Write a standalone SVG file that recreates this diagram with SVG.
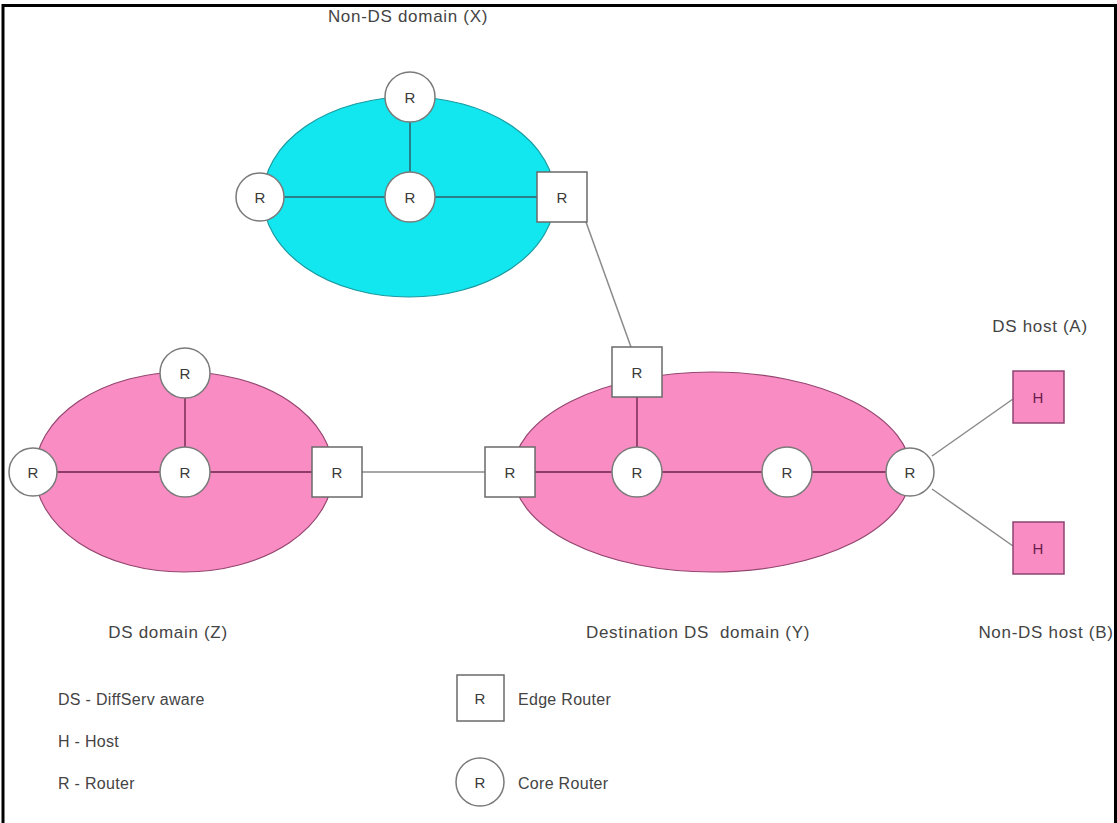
<svg xmlns="http://www.w3.org/2000/svg" width="1117" height="823" viewBox="0 0 1117 823">
<style>
.lbl{font-family:"Liberation Sans",Arial,sans-serif;font-size:17px;letter-spacing:0.7px;fill:#444}
.leg{font-family:"Liberation Sans",Arial,sans-serif;font-size:16px;letter-spacing:0.3px;fill:#444}
.r{font-family:"Liberation Sans",Arial,sans-serif;font-size:15px;fill:#3a3a3a;text-anchor:middle;dominant-baseline:central}
.h{font-family:"Liberation Sans",Arial,sans-serif;font-size:15px;fill:#6a1d4c;text-anchor:middle;dominant-baseline:central}
.core{fill:#fff;stroke:#7a7a7a;stroke-width:1.5}
.edge{fill:#fff;stroke:#6a6a6a;stroke-width:1.5}
.host{fill:#fa8cc4;stroke:#8a4470;stroke-width:1.5}
.cyanE{fill:#12e6ee;stroke:#1a9aa0;stroke-width:1.2}
.pinkE{fill:#fa8cc4;stroke:#94466f;stroke-width:1.2}
.inC{stroke:#2a8088;stroke-width:2;fill:none}
.inP{stroke:#8e3c68;stroke-width:1.8;fill:none}
.ext{stroke:#8a8a8a;stroke-width:1.5;fill:none}
</style>
<rect x="0" y="0" width="1117" height="823" fill="#fff"/>
<path d="M3,830 V5.5 H1115.5 V830" fill="none" stroke="#000" stroke-width="3"/>

<g id="domains">
<ellipse class="cyanE" cx="409" cy="197" rx="146" ry="100"/>
<ellipse class="pinkE" cx="184" cy="472" rx="149" ry="100"/>
<ellipse class="pinkE" cx="712" cy="472" rx="199" ry="100"/>
</g>

<g id="connectors">
<line class="inC" x1="410" y1="122" x2="410" y2="172"/>
<line class="inC" x1="284" y1="197" x2="385" y2="197"/>
<line class="inC" x1="435" y1="197" x2="537" y2="197"/>
<line class="inP" x1="185" y1="398" x2="185" y2="448"/>
<line class="inP" x1="57" y1="472" x2="160" y2="472"/>
<line class="inP" x1="210" y1="472" x2="312" y2="472"/>
<line class="inP" x1="637" y1="397" x2="637" y2="448"/>
<line class="inP" x1="535" y1="472" x2="612" y2="472"/>
<line class="inP" x1="662" y1="472" x2="762" y2="472"/>
<line class="inP" x1="812" y1="472" x2="886" y2="472"/>
<line class="ext" x1="586" y1="222" x2="631" y2="347"/>
<line class="ext" x1="362" y1="472" x2="485" y2="472"/>
<line class="ext" x1="932" y1="456" x2="1013" y2="399"/>
<line class="ext" x1="932" y1="489" x2="1013" y2="546"/>
</g>

<g id="x-top"><circle class="core" cx="410" cy="97" r="25"/><text class="r" x="410" y="97">R</text></g>
<g id="x-left"><circle class="core" cx="260" cy="197" r="24"/><text class="r" x="260" y="197">R</text></g>
<g id="x-center"><circle class="core" cx="410" cy="197" r="25"/><text class="r" x="410" y="197">R</text></g>
<g id="x-edge"><rect class="edge" x="537" y="172" width="50" height="50"/><text class="r" x="562" y="197">R</text></g>

<g id="z-top"><circle class="core" cx="185" cy="373" r="25"/><text class="r" x="185" y="373">R</text></g>
<g id="z-left"><circle class="core" cx="33" cy="472" r="24"/><text class="r" x="33" y="472">R</text></g>
<g id="z-center"><circle class="core" cx="185" cy="472" r="25"/><text class="r" x="185" y="472">R</text></g>
<g id="z-edge"><rect class="edge" x="312" y="447" width="50" height="50"/><text class="r" x="337" y="472">R</text></g>

<g id="y-edge-left"><rect class="edge" x="485" y="447" width="50" height="50"/><text class="r" x="510" y="472">R</text></g>
<g id="y-edge-top"><rect class="edge" x="612" y="347" width="50" height="50"/><text class="r" x="637" y="372">R</text></g>
<g id="y-core1"><circle class="core" cx="637" cy="472" r="25"/><text class="r" x="637" y="472">R</text></g>
<g id="y-core2"><circle class="core" cx="787" cy="472" r="25"/><text class="r" x="787" y="472">R</text></g>
<g id="y-core3"><circle class="core" cx="910" cy="472" r="24"/><text class="r" x="910" y="472">R</text></g>

<g id="host-a"><rect class="host" x="1013" y="371" width="51" height="52"/><text class="h" x="1038" y="397">H</text></g>
<g id="host-b"><rect class="host" x="1013" y="522" width="51" height="52"/><text class="h" x="1038" y="548">H</text></g>

<g id="labels">
<text class="lbl" x="408" y="22" text-anchor="middle">Non-DS domain (X)</text>
<text class="lbl" x="168" y="638" text-anchor="middle">DS domain (Z)</text>
<text class="lbl" x="698" y="638" text-anchor="middle" xml:space="preserve">Destination DS  domain (Y)</text>
<text class="lbl" x="1040" y="332" text-anchor="middle">DS host (A)</text>
<text class="lbl" x="1046" y="638" text-anchor="middle">Non-DS host (B)</text>
</g>

<g id="legend">
<text class="leg" x="58" y="705">DS - DiffServ aware</text>
<text class="leg" x="58" y="747">H - Host</text>
<text class="leg" x="58" y="789">R - Router</text>
<rect class="edge" x="457" y="675" width="47" height="46"/><text class="r" x="480" y="698">R</text>
<text class="leg" x="518" y="705">Edge Router</text>
<circle class="core" cx="480" cy="782" r="24"/><text class="r" x="480" y="782">R</text>
<text class="leg" x="518" y="789">Core Router</text>
</g>
</svg>
